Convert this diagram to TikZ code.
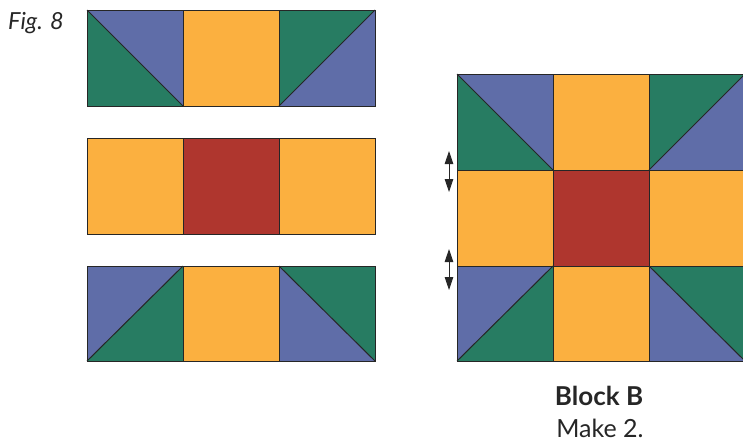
\documentclass[tikz,border=0pt]{standalone}
\usepackage{fontspec}
\setmainfont{Lato}
\usetikzlibrary{arrows.meta}
\definecolor{qblue}{HTML}{5F6DA8}
\definecolor{qgreen}{HTML}{277C62}
\definecolor{qgold}{HTML}{FBB040}
\definecolor{qred}{HTML}{AF362E}
\definecolor{qline}{HTML}{262626}
\tikzset{
  x=1pt,y=-1pt,
  patch/.style={draw=qline,line width=1pt,line join=miter},
  seam/.style={draw=qline,line width=1pt},
  pressarrow/.style={draw=qline,line width=0.9pt,{Triangle[length=13pt,width=8.5pt]}-{Triangle[length=13pt,width=8.5pt]}},
  caption/.style={text=qline,inner sep=0pt},
}
% square patch: x, y, width, height, colour
\newcommand{\sqpatch}[5]{\fill[#5] (#1,#2) rectangle ++(#3,#4); \draw[patch] (#1,#2) rectangle ++(#3,#4);}
% diagonal from top-left to bottom-right: upper-right colour, lower-left colour
\newcommand{\tridown}[6]{%
  \fill[#5] (#1,#2) -- ++(#3,0) -- ++(0,#4) -- cycle;
  \fill[#6] (#1,#2) -- ++(0,#4) -- ++(#3,0) -- cycle;
  \draw[patch] (#1,#2) rectangle ++(#3,#4);
  \draw[seam] (#1,#2) -- ++(#3,#4);}
% diagonal from bottom-left to top-right: upper-left colour, lower-right colour
\newcommand{\triup}[6]{%
  \fill[#5] (#1,#2) ++(0,#4) -- ++(0,-#4) -- ++(#3,0) -- cycle;
  \fill[#6] (#1,#2) ++(0,#4) -- ++(#3,0) -- ++(0,-#4) -- cycle;
  \draw[patch] (#1,#2) rectangle ++(#3,#4);
  \draw[seam] (#1,#2) ++(0,#4) -- ++(#3,-#4);}
\begin{document}
\begin{tikzpicture}
\useasboundingbox (0,0) rectangle (743,440);
\begin{scope}
\clip (0,0) rectangle (743,440);
% row 1
\tridown{87}{10}{96}{96}{qblue}{qgreen}
\sqpatch{183}{10}{96}{96}{qgold}
\triup{279}{10}{96}{96}{qgreen}{qblue}
% row 2
\sqpatch{87}{138}{96}{96}{qgold}
\sqpatch{183}{138}{96}{96}{qred}
\sqpatch{279}{138}{96}{96}{qgold}
% row 3
\triup{87}{266}{96}{95}{qblue}{qgreen}
\sqpatch{183}{266}{96}{95}{qgold}
\tridown{279}{266}{96}{95}{qgreen}{qblue}
% block
\tridown{457}{74}{96}{96}{qblue}{qgreen}
\sqpatch{553}{74}{96}{96}{qgold}
\triup{649}{74}{96}{96}{qgreen}{qblue}
\sqpatch{457}{170}{96}{96}{qgold}
\sqpatch{553}{170}{96}{96}{qred}
\sqpatch{649}{170}{96}{96}{qgold}
\triup{457}{266}{96}{95}{qblue}{qgreen}
\sqpatch{553}{266}{96}{95}{qgold}
\tridown{649}{266}{96}{95}{qgreen}{qblue}
\end{scope}
% pressing arrows
\coordinate (a1t) at (449,151);
\coordinate (a1b) at (449,192);
\coordinate (a2t) at (449,249);
\coordinate (a2b) at (449,290);
\draw[pressarrow] (a1t) -- (a1b);
\draw[pressarrow] (a2t) -- (a2b);
% texts
\node[caption,anchor=base west,font=\fontsize{23.5}{28}\selectfont\itshape] (fig) at (8,29) {Fig. 8};
\node[caption,anchor=base,font=\fontsize{26}{30}\selectfont\bfseries] (blk) at (599,405) {Block B};
\node[caption,anchor=base,font=\fontsize{25}{30}\selectfont] (mk) at (600,437) {Make 2.};
\end{tikzpicture}
\end{document}
